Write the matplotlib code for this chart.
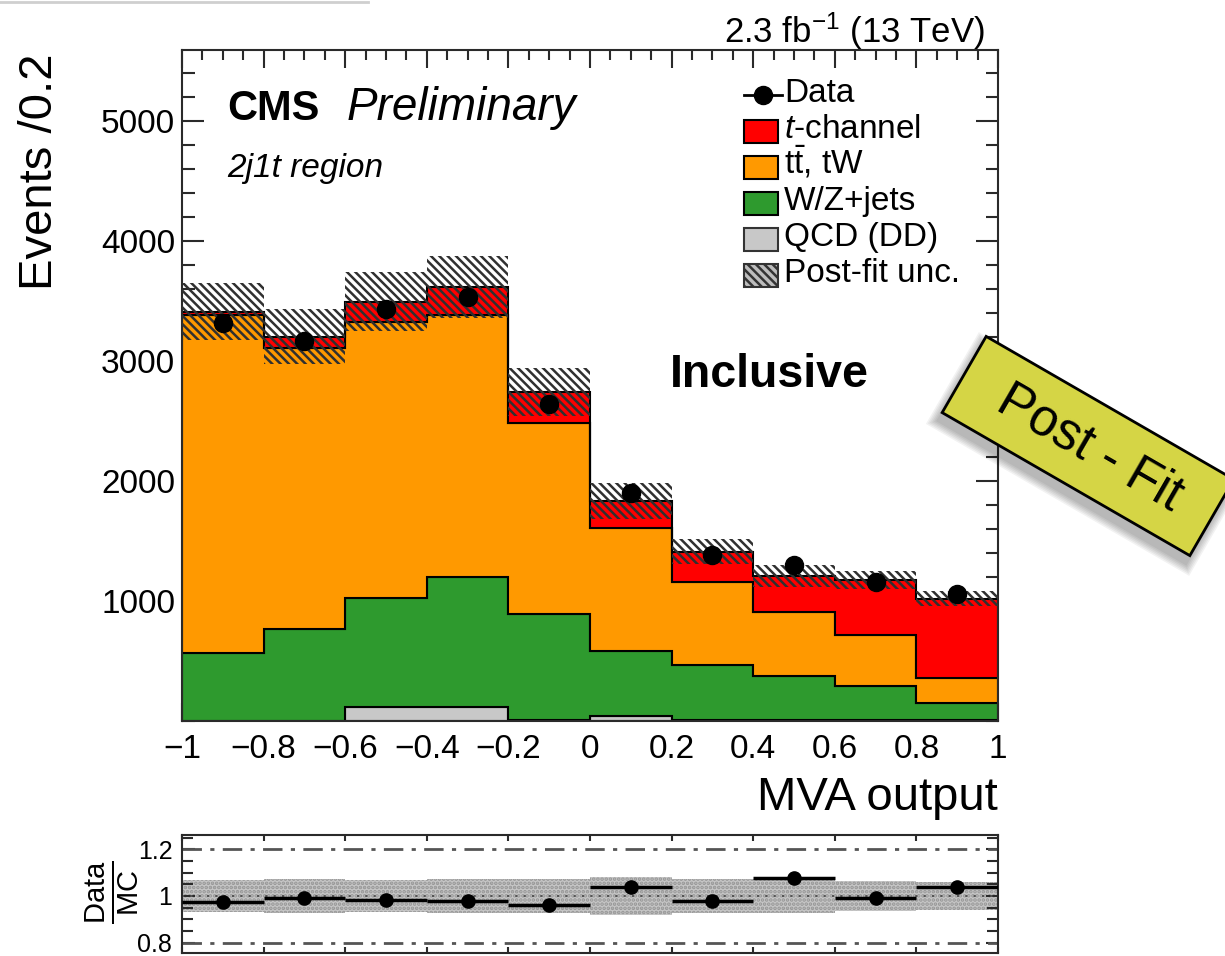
import numpy as np
import matplotlib
matplotlib.use("Agg")
import matplotlib.pyplot as plt
from matplotlib.patches import Polygon, Rectangle
from matplotlib.lines import Line2D
from matplotlib.ticker import MultipleLocator, FixedLocator, FixedFormatter

plt.rcParams['font.family'] = ['Liberation Sans', 'DejaVu Sans']
plt.rcParams['mathtext.fontset'] = 'custom'
plt.rcParams['mathtext.rm'] = 'Liberation Sans'
plt.rcParams['mathtext.it'] = 'Liberation Sans:italic'
plt.rcParams['mathtext.bf'] = 'Liberation Sans:bold'
plt.rcParams['hatch.linewidth'] = 1.8

# ---- histogram content (10 bins of MVA output) ----
bin_edges = [-1.0, -0.8, -0.6, -0.4, -0.2, 0.0, 0.2, 0.4, 0.6, 0.8, 1.0]
qcd_dd = [0, 0, 115, 115, 10, 40, 10, 5, 5, 5]
wz_jets = [564, 769, 910, 1088, 882, 546, 459, 370, 289, 142]
ttbar_tw = [2819, 2339, 2302, 2180, 1594, 1020, 692, 536, 423, 209]
t_channel = [27, 92, 165, 234, 258, 224, 250, 297, 456, 664]
data_counts = [3319, 3169, 3431, 3536, 2639, 1903, 1383, 1300, 1161, 1058]
postfit_unc = [240, 230, 245, 260, 200, 150, 105, 90, 75, 60]

xtick_values = [-1.0, -0.8, -0.6, -0.4, -0.2, 0.0, 0.2, 0.4, 0.6, 0.8, 1.0]
xtick_labels = ['\u22121', '\u22120.8', '\u22120.6', '\u22120.4', '\u22120.2', '0',
                '0.2', '0.4', '0.6', '0.8', '1']
ytick_values = [1000, 2000, 3000, 4000, 5000]
ytick_labels = ['1000', '2000', '3000', '4000', '5000']
rtick_values = [0.8, 1.0, 1.2]
rtick_labels = ['0.8', '1', '1.2']

legend_labels = ['Data', r'$t$-channel', r't$\bar{\mathrm{t}}$, tW', 'W/Z+jets',
                 'QCD (DD)', 'Post-fit unc.']

C_RED = '#ff0000'
C_ORANGE = '#ff9900'
C_GREEN = '#2e9a2e'
C_QCD = '#c8c8c8'
C_FRAME = '#2a2a2a'

W, H = 1225, 956
fig = plt.figure(figsize=(W / 100, H / 100), dpi=100)
fig.patch.set_facecolor('white')


def fx(px):
    return px / W


def fy(py):
    return 1 - py / H


ax = fig.add_axes([fx(182), fy(721), fx(998) - fx(182), fy(50) - fy(721)])
rax = fig.add_axes([fx(182), fy(953), fx(998) - fx(182), fy(835) - fy(953)])

edges = np.array(bin_edges)
centers = 0.5 * (edges[:-1] + edges[1:])

# ---- stacked backgrounds ----
base = np.zeros(len(centers))
for vals, col in [(qcd_dd, C_QCD), (wz_jets, C_GREEN), (ttbar_tw, C_ORANGE), (t_channel, C_RED)]:
    top = base + np.array(vals, dtype=float)
    ax.stairs(top, edges, baseline=base, fill=True, facecolor=col,
              edgecolor='black', linewidth=1.5, zorder=2)
    base = top
total = base
unc = np.array(postfit_unc, dtype=float)

ax.stairs(total + unc, edges, baseline=total - unc, fill=True, facecolor='none',
          edgecolor='#303030', hatch='\\\\\\\\', linewidth=0, zorder=3)
ax.plot(centers, data_counts, 'o', color='black', ms=13, zorder=5)

ax.set_xlim(-1, 1)
ax.set_ylim(0, 5590)
ax.xaxis.set_major_locator(FixedLocator(xtick_values))
ax.xaxis.set_major_formatter(FixedFormatter(xtick_labels))
ax.xaxis.set_minor_locator(MultipleLocator(0.05))
ax.yaxis.set_major_locator(FixedLocator(ytick_values))
ax.yaxis.set_major_formatter(FixedFormatter(ytick_labels))
ax.yaxis.set_minor_locator(MultipleLocator(200))
ax.tick_params(which='both', direction='in', top=True, right=True, width=1.5,
               color=C_FRAME, labelsize=24)
ax.tick_params(axis='x', which='major', length=13, pad=9)
ax.tick_params(axis='x', which='minor', length=7)
ax.tick_params(axis='y', which='major', length=16, pad=5)
ax.tick_params(axis='y', which='minor', length=9)
for s in ax.spines.values():
    s.set_linewidth(1.5)
    s.set_color(C_FRAME)

# ---- ratio panel ----
data_arr = np.array(data_counts, dtype=float)
ratio = data_arr / total
rel_unc = unc / total
rax.stairs(1 + rel_unc, edges, baseline=1 - rel_unc, fill=True, facecolor='#c6c6c6',
           edgecolor='#959595', hatch='....', linewidth=0, zorder=1)
rax.axhline(1.0, color='#555555', lw=1.5, ls=(0, (1, 3)), zorder=2)
for lvl in (0.8, 1.2):
    rax.axhline(lvl, color='#555555', lw=2, ls=(0, (7, 3, 1.5, 3)), zorder=2)
rax.errorbar(centers, ratio, xerr=0.1, fmt='o', color='black', ms=9.5,
             elinewidth=2.5, capsize=0, zorder=4)
rax.set_xlim(-1, 1)
rax.set_ylim(0.756, 1.261)
rax.xaxis.set_major_locator(FixedLocator(xtick_values))
rax.xaxis.set_minor_locator(FixedLocator([]))
rax.yaxis.set_major_locator(FixedLocator(rtick_values))
rax.yaxis.set_major_formatter(FixedFormatter(rtick_labels))
rax.yaxis.set_minor_locator(MultipleLocator(0.05))
rax.tick_params(which='both', direction='in', top=True, right=True, width=1.5,
                color=C_FRAME, labelsize=18)
rax.tick_params(axis='x', which='major', length=4, labelbottom=False)
rax.tick_params(axis='y', which='major', length=9, pad=7)
rax.tick_params(axis='y', which='minor', length=8)
for s in rax.spines.values():
    s.set_linewidth(1.5)
    s.set_color(C_FRAME)
fig.text(fx(112), fy(892), r'$\frac{\mathrm{Data}}{\mathrm{MC}}$', rotation=90,
         ha='center', va='center', fontsize=30)

# ---- labels ----
fig.text(fx(40), fy(54), 'Events /0.2', rotation=90, ha='center', va='top', fontsize=34)
fig.text(fx(998), fy(810), 'MVA output', ha='right', va='baseline', fontsize=34)
fig.text(fx(985), fy(43), r'2.3 fb$^{\mathregular{-1}}$ (13 TeV)', ha='right',
         va='baseline', fontsize=25)
fig.text(fx(227), fy(120), 'CMS', ha='left', va='baseline', fontsize=30, fontweight='bold')
fig.text(fx(347), fy(120), 'Preliminary', ha='left', va='baseline', fontsize=33,
         fontstyle='italic')
fig.text(fx(227), fy(177), '2j1t region', ha='left', va='baseline', fontsize=24,
         fontstyle='italic')
fig.text(fx(670), fy(387), 'Inclusive', ha='left', va='baseline', fontsize=33.5,
         fontweight='bold')

# ---- legend ----
row_y = [95, 131, 167, 203, 239, 275]
box_x0, box_w, box_h = 744, 34, 23
legend_styles = [None,
                 dict(facecolor=C_RED, edgecolor='black', hatch=None),
                 dict(facecolor=C_ORANGE, edgecolor='black', hatch=None),
                 dict(facecolor=C_GREEN, edgecolor='black', hatch=None),
                 dict(facecolor=C_QCD, edgecolor='#333333', hatch=None),
                 dict(facecolor='#bdbdbd', edgecolor='#333333', hatch='\\\\\\\\')]
for yc, lab, sty in zip(row_y, legend_labels, legend_styles):
    if sty is None:
        fig.add_artist(Line2D([fx(box_x0), fx(box_x0 + box_w + 4)], [fy(yc), fy(yc)],
                              color='black', lw=2, transform=fig.transFigure))
        fig.add_artist(Line2D([fx(box_x0 + (box_w + 4) / 2)], [fy(yc)], marker='o',
                              ms=13, color='black', transform=fig.transFigure))
    else:
        fig.add_artist(Rectangle((fx(box_x0), fy(yc + box_h / 2)), fx(box_w),
                                 box_h / H, transform=fig.transFigure, lw=1.5, **sty))
    fig.text(fx(784), fy(yc + 7), lab, ha='left', va='baseline', fontsize=24)

# ---- "Post - Fit" sticker ----
cx, cy = 1088, 446
half_w, half_h = 143, 44
theta = np.deg2rad(30)


def sticker_corners(dx=0.0, dy=0.0, grow=0.0):
    pts = []
    for sx, sy in [(-1, -1), (1, -1), (1, 1), (-1, 1)]:
        x = sx * (half_w + grow)
        y = sy * (half_h + grow)
        xr = x * np.cos(theta) - y * np.sin(theta)
        yr = x * np.sin(theta) + y * np.cos(theta)
        pts.append((fx(cx + xr + dx), fy(cy + yr + dy)))
    return pts


for g in range(6, 0, -1):
    fig.add_artist(Polygon(sticker_corners(-4, 8, g * 1.5), closed=True,
                           facecolor='black', edgecolor='none', alpha=0.05,
                           transform=fig.transFigure, zorder=9))
fig.add_artist(Polygon(sticker_corners(), closed=True, facecolor='#d5d545',
                       edgecolor='black', lw=2, transform=fig.transFigure, zorder=10))
fig.text(fx(cx + 2), fy(cy + 2), 'Post - Fit', rotation=-30, rotation_mode='anchor',
         ha='center', va='center', fontsize=37, zorder=11)

# thin slide rule at the top-left edge
fig.add_artist(Line2D([0, fx(368)], [fy(1.5), fy(1.5)], color='#cfcfcf', lw=2,
                      transform=fig.transFigure))

fig.savefig('out.png', dpi=100)
